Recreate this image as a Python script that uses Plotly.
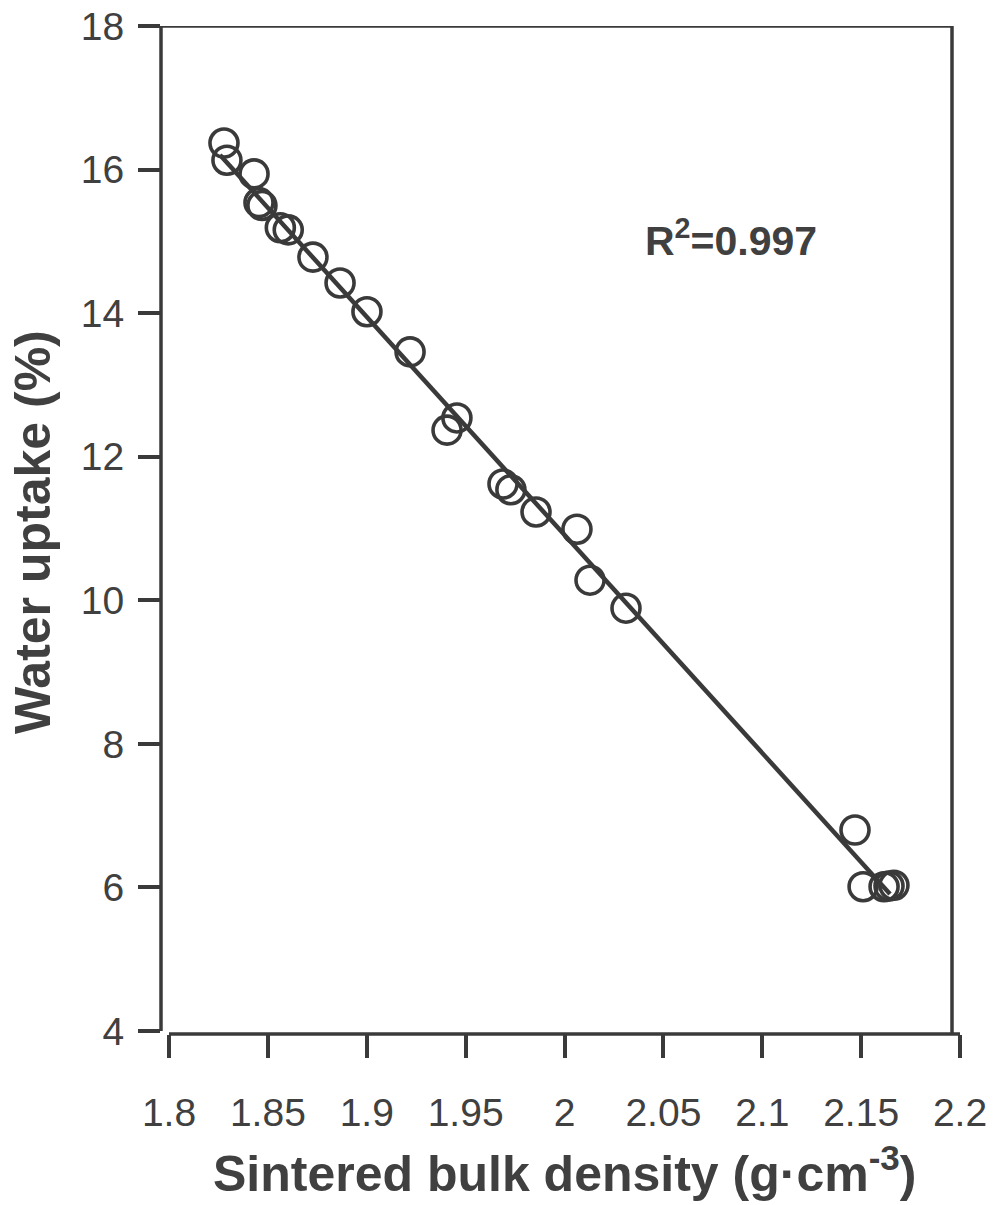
import numpy as np
import plotly.graph_objects as go

# Sintered bulk density (g/cm3) and water uptake (%) of the fired samples
density = [1.8278, 1.8293, 1.8430, 1.8455, 1.8470, 1.8563, 1.8603,
           1.8728, 1.8865, 1.9001, 1.9219, 1.9406, 1.9456, 1.9689,
           1.9729, 1.9856, 2.0063, 2.0129, 2.0311, 2.1469, 2.1510,
           2.1616, 2.1641, 2.1666]
water_uptake = [16.37, 16.13, 15.94, 15.54, 15.50, 15.19, 15.16,
                14.78, 14.42, 14.02, 13.46, 12.37, 12.54, 11.62,
                11.54, 11.23, 10.99, 10.28, 9.89, 6.80, 6.01,
                6.01, 6.02, 6.03]

x_ticks = [1.8, 1.85, 1.9, 1.95, 2.0, 2.05, 2.1, 2.15, 2.2]
x_tick_text = ["1.8", "1.85", "1.9", "1.95", "2", "2.05", "2.1", "2.15", "2.2"]
y_ticks = [4, 6, 8, 10, 12, 14, 16, 18]
r2_text = "R<sup>2</sup>=0.997"

INK = "#3a3a3a"
TXT = "#404040"
FONT = "Liberation Sans, Arial, sans-serif"

# least-squares line through the measurements
slope, intercept = np.polyfit(density, water_uptake, 1)
fit_x = np.array([min(density) - 0.002, max(density) - 0.002])
fit_y = slope * fit_x + intercept

fig = go.Figure()
fig.add_trace(go.Scatter(
    x=fit_x, y=fit_y, mode="lines",
    line=dict(color=INK, width=4.5), showlegend=False, hoverinfo="skip"))
fig.add_trace(go.Scatter(
    x=density, y=water_uptake, mode="markers",
    marker=dict(symbol="circle-open", size=28, color=INK,
                line=dict(color=INK, width=3.6)),
    showlegend=False))

W, H = 994, 1205
L, R, T, B = 161, 34, 26, 171
px_per_x = (W - R - L - 8) / 0.4
x_lo = 1.8 - 8 / px_per_x
x_right_frame = 2.2 - 8 / px_per_x
px_per_y = (H - B - T - 3) / 14
y_lo = 4 - 3 / px_per_y

fig.update_layout(
    width=W, height=H,
    margin=dict(l=L, r=R, t=T, b=B, autoexpand=False),
    plot_bgcolor="white", paper_bgcolor="white",
    font=dict(family=FONT, color=TXT, size=39),
    xaxis=dict(range=[x_lo, 2.2], tickvals=x_ticks, ticktext=x_tick_text,
               ticks="outside", ticklen=23, tickwidth=3.5, tickcolor=INK,
               showgrid=False, zeroline=False, showline=False,
               automargin=False, ticklabelstandoff=21,
               tickfont=dict(size=39, color=TXT, family=FONT)),
    yaxis=dict(range=[y_lo, 18], tickvals=y_ticks,
               ticks="outside", ticklen=22, tickwidth=3.5, tickcolor=INK,
               showgrid=False, zeroline=False, showline=False,
               automargin=False, ticklabelstandoff=6,
               tickfont=dict(size=39, color=TXT, family=FONT)),
)

# offset axis lines and the open frame
frame = dict(color=INK, width=3.5)
fig.add_shape(type="line", xref="paper", yref="y", x0=0, x1=0, y0=4, y1=18, line=frame)
fig.add_shape(type="line", xref="x", yref="paper", x0=1.8, x1=2.2, y0=0, y1=0, line=frame)
fig.add_shape(type="line", xref="paper", yref="y", x0=0, x1=(W - R - 8 - L) / (W - R - L),
              y0=18, y1=18, line=frame)
fig.add_shape(type="line", xref="x", yref="paper", x0=x_right_frame, x1=x_right_frame,
              y0=0, y1=1, line=frame)

pw, ph = W - L - R, H - T - B


def px(xp):
    return (xp - L) / pw


def py(yp):
    return (H - B - yp) / ph


fig.add_annotation(text="<b>Sintered bulk density (g·cm<sup>-3</sup>)</b>",
                   xref="paper", yref="paper", x=px(564), y=py(1170),
                   showarrow=False, xanchor="center", yanchor="middle",
                   font=dict(size=50, color=TXT, family=FONT))
fig.add_annotation(text="<b>Water uptake (%)</b>",
                   xref="paper", yref="paper", x=px(33), y=py(532),
                   showarrow=False, textangle=-90, xanchor="center", yanchor="middle",
                   font=dict(size=50, color=TXT, family=FONT))
fig.add_annotation(text="<b>" + r2_text + "</b>",
                   xref="paper", yref="paper", x=px(731), y=py(238),
                   showarrow=False, xanchor="center", yanchor="middle",
                   font=dict(size=41, color=TXT, family=FONT))

fig.write_html("out.html")
